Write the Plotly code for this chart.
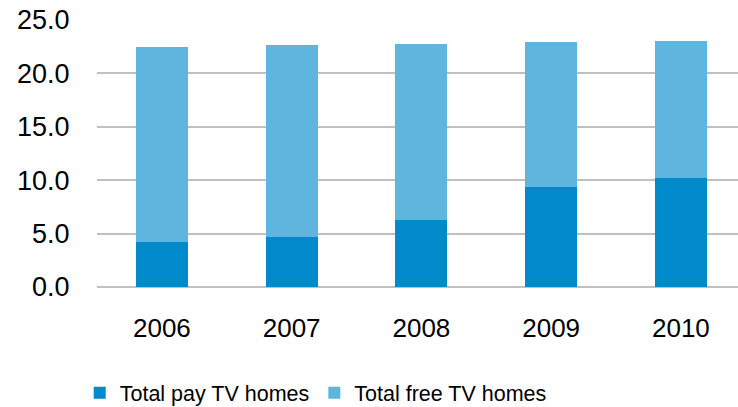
import plotly.graph_objects as go

# TV households (millions), stacked: pay TV at the base, free TV on top
years = ["2006", "2007", "2008", "2009", "2010"]
pay_tv_homes = [4.2, 4.7, 6.3, 9.4, 10.2]
free_tv_homes = [18.3, 18.0, 16.5, 13.5, 12.8]
y_ticks = [0, 5, 10, 15, 20, 25]

PAY_COLOR = "#0089cb"
FREE_COLOR = "#5eb5de"
GRID_COLOR = "#c0c0c0"
FONT = "Liberation Sans, Arial, sans-serif"

fig = go.Figure()
fig.add_trace(go.Bar(
    x=years, y=pay_tv_homes, name="Total pay TV homes",
    marker=dict(color=PAY_COLOR, line=dict(width=0)),
))
fig.add_trace(go.Bar(
    x=years, y=free_tv_homes, name="Total free TV homes",
    marker=dict(color=FREE_COLOR, line=dict(width=0)),
))

fig.update_layout(
    width=738, height=407,
    margin=dict(l=97, r=0, t=20, b=120),
    barmode="stack",
    bargap=0.6,
    plot_bgcolor="white",
    paper_bgcolor="white",
    font=dict(family=FONT, color="#000000"),
    showlegend=True,
    legend=dict(
        orientation="h",
        xref="container", x=0.108, xanchor="left",
        yref="container", y=0.035, yanchor="middle",
        font=dict(size=21.5, family=FONT, color="#000000"),
        itemwidth=30,
        traceorder="normal",
    ),
)

fig.update_xaxes(
    type="category",
    range=[-0.5, 4.44],
    showgrid=False,
    showline=False,
    automargin=False,
    ticks="outside", ticklen=18, tickcolor="rgba(0,0,0,0)",
    tickfont=dict(size=26, family=FONT, color="#000000"),
)

fig.update_yaxes(
    range=[0, 25],
    tickvals=y_ticks,
    tickformat=".1f",
    showgrid=True, gridcolor=GRID_COLOR, gridwidth=2,
    zeroline=True, zerolinecolor=GRID_COLOR, zerolinewidth=2,
    showline=False,
    automargin=False,
    ticks="outside", ticklen=21, tickcolor="rgba(0,0,0,0)",
    tickfont=dict(size=27, family=FONT, color="#000000"),
)

fig.write_html("out.html")
